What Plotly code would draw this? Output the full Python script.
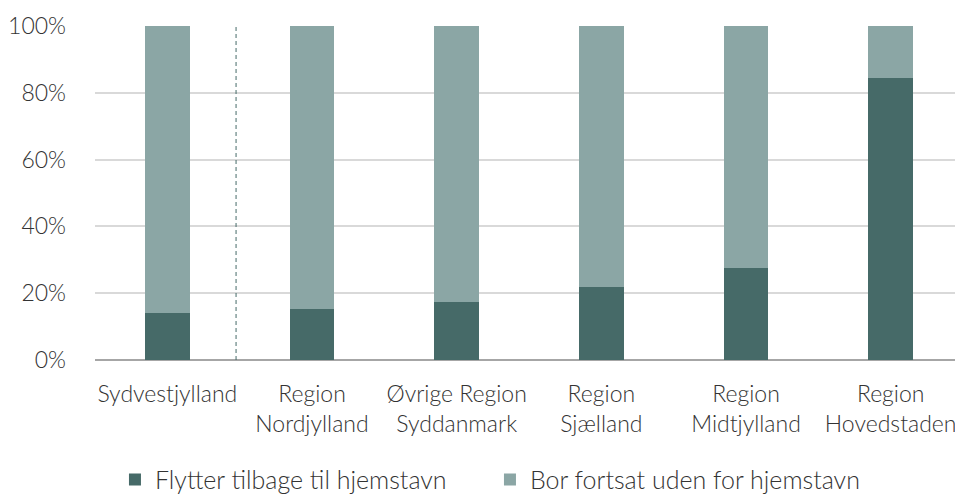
import plotly.graph_objects as go

# kategorier og andele
categories = ['Sydvestjylland', 'Region<br>Nordjylland', 'Øvrige Region<br>Syddanmark',
              'Region<br>Sjælland', 'Region<br>Midtjylland', 'Region<br>Hovedstaden']
flytter = [0.141, 0.153, 0.174, 0.218, 0.274, 0.844]
bor = [1 - v for v in flytter]

dark = '#466A68'
light = '#8BA6A5'
font = dict(family='Lato', size=23, color='#333333', weight=300)
legend_font = dict(family='Lato', size=25, color='#333333', weight=300)

fig = go.Figure()
fig.add_trace(go.Bar(x=categories, y=flytter, name='Flytter tilbage til hjemstavn',
                     marker=dict(color=dark, line=dict(width=0)), width=0.31))
fig.add_trace(go.Bar(x=categories, y=bor, name='Bor fortsat uden for hjemstavn',
                     marker=dict(color=light, line=dict(width=0)), width=0.31))

# stiplet skillelinje mellem Sydvestjylland og resten
fig.add_shape(type='line', xref='x', yref='y', x0=0.475, x1=0.475, y0=0, y1=1,
              line=dict(color=dark, width=1, dash='4px,3px'), layer='above')

# siden har 8px body-margin, så figuren gøres tilsvarende mindre
fig.update_layout(
    barmode='stack',
    width=955, height=490,
    margin=dict(l=87, r=0, t=18, b=138, autoexpand=False),
    plot_bgcolor='white', paper_bgcolor='white',
    font=font,
    showlegend=True,
    legend=dict(orientation='h', x=0.023, xanchor='left', yref='paper', y=-0.29,
                yanchor='top', font=legend_font, itemwidth=30, entrywidth=330,
                traceorder='normal'),
    xaxis=dict(range=[-0.5, 5.5], showgrid=False, showline=False, ticks='',
               tickfont=font, ticklabelstandoff=18),
    yaxis=dict(range=[0, 1], tickformat='.0%', dtick=0.2, showgrid=True,
               gridcolor='#D9D9D9', gridwidth=1.5, zeroline=True, zerolinecolor='#A6A6A6',
               zerolinewidth=1.5, showline=False, ticklabelstandoff=28, tickfont=font),
)

fig.write_html('out.html')
